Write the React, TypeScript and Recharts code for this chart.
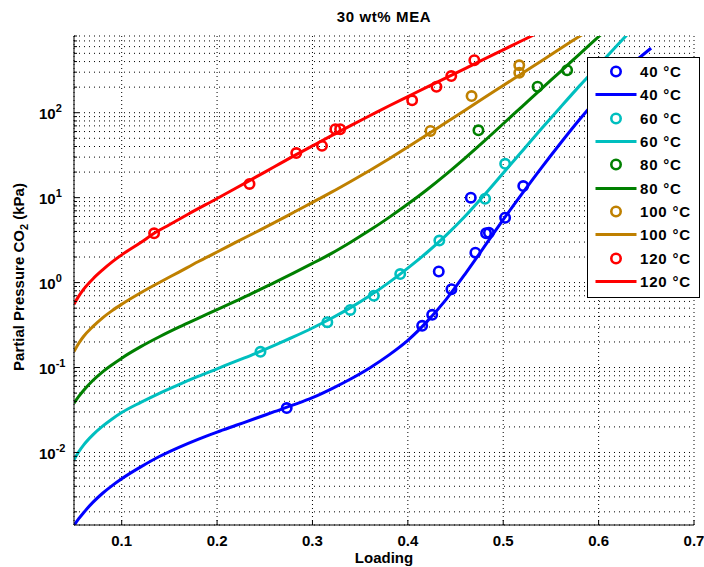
import React from 'react';
import { ComposedChart, Line, Scatter, XAxis, YAxis, CartesianGrid, Legend } from 'recharts';

// ---------- data ----------
const seriesLabels = ['40 °C', '60 °C', '80 °C', '100 °C', '120 °C'];
const seriesColors = ['#0000FF', '#00BFBF', '#008000', '#BF8000', '#FF0000'];

// model curves (loading, partial pressure CO2 in kPa)
const fit40: [number, number][] = [
  [0.05, 0.00138], [0.055, 0.00166], [0.06, 0.00195], [0.07, 0.0026], [0.08, 0.00331], [0.09, 0.00407],
  [0.1, 0.0049], [0.12, 0.00676], [0.14, 0.00902], [0.16, 0.0115], [0.18, 0.0143], [0.2, 0.0174],
  [0.22, 0.0209], [0.24, 0.0251], [0.26, 0.0302], [0.28, 0.0363], [0.3, 0.0442], [0.32, 0.0562],
  [0.34, 0.0733], [0.36, 0.0989], [0.38, 0.14], [0.4, 0.209], [0.42, 0.347], [0.44, 0.631],
  [0.46, 1.26], [0.48, 2.63], [0.5, 5.5], [0.52, 11.2], [0.54, 22.4], [0.56, 43.7], [0.58, 83.2],
  [0.6, 151], [0.62, 263], [0.64, 417], [0.655, 575],
];
const fit60: [number, number][] = [
  [0.05, 0.0082], [0.055, 0.0102], [0.06, 0.0122], [0.07, 0.0162], [0.08, 0.0204], [0.09, 0.0248],
  [0.1, 0.0295], [0.12, 0.0389], [0.14, 0.0501], [0.16, 0.0631], [0.18, 0.0785], [0.2, 0.0966],
  [0.22, 0.119], [0.24, 0.146], [0.26, 0.182], [0.28, 0.229], [0.3, 0.292], [0.32, 0.38],
  [0.34, 0.507], [0.36, 0.7], [0.38, 1.0], [0.4, 1.48], [0.42, 2.26], [0.44, 3.59], [0.46, 6.03],
  [0.48, 10.7], [0.5, 19.5], [0.52, 35.5], [0.54, 64.6], [0.56, 116], [0.58, 207], [0.6, 363],
  [0.62, 631], [0.64, 1096],
];
const fit80: [number, number][] = [
  [0.05, 0.038], [0.055, 0.0457], [0.06, 0.0537], [0.07, 0.0708], [0.08, 0.0891], [0.09, 0.108],
  [0.1, 0.129], [0.12, 0.176], [0.14, 0.232], [0.16, 0.299], [0.18, 0.38], [0.2, 0.481],
  [0.22, 0.61], [0.24, 0.776], [0.26, 1.0], [0.28, 1.29], [0.3, 1.68], [0.32, 2.21], [0.34, 2.99],
  [0.36, 4.12], [0.38, 5.82], [0.4, 8.41], [0.42, 12.4], [0.44, 18.8], [0.46, 29.2], [0.48, 46.2],
  [0.5, 74.1], [0.52, 119], [0.54, 191], [0.56, 305], [0.58, 490], [0.6, 785], [0.62, 1259],
];
const fit100: [number, number][] = [
  [0.05, 0.154], [0.055, 0.193], [0.06, 0.232], [0.07, 0.305], [0.08, 0.385], [0.09, 0.468],
  [0.1, 0.556], [0.12, 0.759], [0.14, 1.01], [0.16, 1.33], [0.18, 1.76], [0.2, 2.29], [0.22, 2.99],
  [0.24, 3.89], [0.26, 5.07], [0.28, 6.68], [0.3, 8.81], [0.32, 11.6], [0.34, 15.5], [0.36, 20.9],
  [0.38, 28.5], [0.4, 39.4], [0.42, 55.0], [0.44, 76.7], [0.46, 107], [0.48, 150], [0.5, 209],
  [0.52, 292], [0.54, 407], [0.56, 569], [0.58, 794], [0.6, 1109],
];
const fit120: [number, number][] = [
  [0.05, 0.557], [0.055, 0.692], [0.06, 0.832], [0.07, 1.11], [0.08, 1.41], [0.09, 1.75], [0.1, 2.12],
  [0.12, 2.96], [0.134, 3.8], [0.15, 4.8], [0.17, 6.43], [0.2, 9.77], [0.22, 12.97], [0.24, 17.3],
  [0.26, 23.1], [0.28, 30.8], [0.3, 40.7], [0.32, 53.7], [0.34, 70.5], [0.36, 92.0], [0.38, 120],
  [0.4, 155], [0.42, 200], [0.44, 257], [0.46, 331], [0.48, 427], [0.5, 550], [0.52, 708],
  [0.54, 912],
];

// experimental points
const exp40: [number, number][] = [
  [0.273, 0.0333], [0.415, 0.31], [0.4255, 0.417], [0.4324, 1.35], [0.4457, 0.835], [0.466, 10.0],
  [0.4708, 2.25], [0.482, 3.8], [0.485, 3.85], [0.502, 5.8], [0.521, 13.7],
];
const exp60: [number, number][] = [
  [0.2455, 0.153], [0.3156, 0.342], [0.3397, 0.477], [0.3644, 0.7], [0.392, 1.26], [0.433, 3.12],
  [0.481, 9.7], [0.502, 25],
];
const exp80: [number, number][] = [[0.474, 62], [0.536, 202], [0.567, 316]];
const exp100: [number, number][] = [[0.4237, 61], [0.4668, 157], [0.5168, 296], [0.5168, 361]];
const exp120: [number, number][] = [
  [0.134, 3.8], [0.234, 14.5], [0.283, 33.5], [0.31, 40.7], [0.324, 64], [0.329, 64],
  [0.4045, 140], [0.43, 202], [0.4455, 270], [0.4697, 415],
];

const xTicks = [0.1, 0.2, 0.3, 0.4, 0.5, 0.6, 0.7];
const xDomain = [0.05, 0.7];
const yDomain = [0.0014, 800];
const yDecades = [0.001, 0.01, 0.1, 1, 10, 100];
const yMinorSteps = [1, 2, 3, 4, 5, 6, 7, 8, 9];

// ---------- derived ----------
const fits = [fit40, fit60, fit80, fit100, fit120];
const exps = [exp40, exp60, exp80, exp100, exp120];
const toPts = (a: [number, number][]) => a.map(([x, y]) => ({ x, y }));

const yTicks: number[] = [];
yDecades.forEach((d) =>
  yMinorSteps.forEach((k) => {
    const v = Number((k * d).toPrecision(6));
    if (v >= yDomain[0] && v <= yDomain[1]) yTicks.push(v);
  })
);

const FONT = "'Liberation Sans', Arial, Helvetica, sans-serif";
const PLOT_LEFT = 74;
const PLOT_BOTTOM = 525;

const YTick = (props: any) => {
  const { y, payload } = props;
  const v = payload.value as number;
  const e = Math.round(Math.log10(v));
  const major = Math.abs(v - Math.pow(10, e)) / v < 1e-6;
  return (
    <g>
      <line x1={PLOT_LEFT} x2={PLOT_LEFT + (major ? 5 : 3)} y1={y} y2={y} stroke="#000" strokeWidth={1} />
      {major && (
        <text x={39} y={y + 6.3} fontSize={15} fontWeight="bold" fontFamily={FONT} fill="#000">
          10
          <tspan fontSize={11} dy={-7}>{String(e)}</tspan>
        </text>
      )}
    </g>
  );
};

const XTick = (props: any) => {
  const { x, payload } = props;
  return (
    <g>
      <line x1={x} x2={x} y1={PLOT_BOTTOM} y2={PLOT_BOTTOM - 5} stroke="#000" strokeWidth={1} />
      <text x={x} y={545.5} textAnchor="middle" fontSize={15} fontWeight="bold" fontFamily={FONT} fill="#000">
        {(payload.value as number).toFixed(1)}
      </text>
    </g>
  );
};

const makeCircle = (color: string) => (props: any) => {
  const { cx, cy } = props;
  if (cx == null || cy == null) return <g />;
  return <circle cx={cx} cy={cy} r={4.7} fill="none" stroke={color} strokeWidth={2.6} />;
};

const LegendBox = () => {
  const rows: { label: string; color: string; marker: boolean }[] = [];
  seriesLabels.forEach((l, i) => {
    rows.push({ label: l, color: seriesColors[i], marker: true });
    rows.push({ label: l, color: seriesColors[i], marker: false });
  });
  return (
    <div
      style={{
        width: 113,
        height: 241,
        boxSizing: 'border-box',
        border: '1.6px solid #000',
        background: '#fff',
        paddingTop: 2,
        fontFamily: FONT,
      }}
    >
      {rows.map((r, i) => (
        <div key={i} style={{ display: 'flex', alignItems: 'center', height: 23.3 }}>
          <svg width={52} height={23} style={{ display: 'block', flex: 'none' }}>
            {r.marker ? (
              <circle cx={28} cy={11.5} r={4.7} fill="none" stroke={r.color} strokeWidth={2.6} />
            ) : (
              <line x1={7.5} x2={48.5} y1={11.5} y2={11.5} stroke={r.color} strokeWidth={3} />
            )}
          </svg>
          <span style={{ fontSize: 15, fontWeight: 'bold', color: '#000', letterSpacing: 0.8, whiteSpace: 'nowrap' }}>
            {r.label}
          </span>
        </div>
      ))}
    </div>
  );
};

export default function App() {
  const children: React.ReactNode[] = [];
  seriesLabels.forEach((label, i) => {
    children.push(
      <Scatter
        key={'s' + i}
        name={label + ' data'}
        data={toPts(exps[i])}
        dataKey="y"
        shape={makeCircle(seriesColors[i])}
        isAnimationActive={false}
      />
    );
    children.push(
      <Line
        key={'l' + i}
        name={label}
        data={toPts(fits[i])}
        dataKey="y"
        type="monotone"
        stroke={seriesColors[i]}
        strokeWidth={3}
        dot={false}
        activeDot={false}
        isAnimationActive={false}
      />
    );
  });

  return (
    <div style={{ position: 'absolute', left: 0, top: 0, width: 704, height: 567, background: '#fff' }}>
      <ComposedChart width={704} height={567} margin={{ top: 36, right: 10, bottom: 12, left: 14 }}>
        <CartesianGrid stroke="#000" strokeDasharray="1 4" strokeWidth={1} vertical={false} />
        <CartesianGrid stroke="#000" strokeDasharray="1 3" strokeWidth={1} horizontal={false} />
        <XAxis
          dataKey="x"
          type="number"
          domain={xDomain}
          ticks={xTicks}
          allowDataOverflow
          height={30}
          tickLine={false}
          axisLine={{ stroke: '#000', strokeWidth: 1 }}
          tick={<XTick />}
          interval={0}
          label={{
            content: () => (
              <text x={384} y={562.5} textAnchor="middle" fontSize={15} fontWeight="bold" fontFamily={FONT} fill="#000">
                Loading
              </text>
            ),
          }}
        />
        <YAxis
          type="number"
          scale="log"
          domain={yDomain}
          ticks={yTicks}
          allowDataOverflow
          width={60}
          tickLine={false}
          axisLine={{ stroke: '#000', strokeWidth: 1 }}
          tick={<YTick />}
          interval={0}
          label={{
            content: () => (
              <text
                transform="rotate(-90)"
                x={-277}
                y={24}
                textAnchor="middle"
                fontSize={15}
                fontWeight="bold"
                fontFamily={FONT}
                fill="#000"
              >
                Partial Pressure CO
                <tspan dy={4} fontSize={11}>2</tspan>
                <tspan dy={-4}> (kPa)</tspan>
              </text>
            ),
          }}
        />
        <Legend
          content={() => <LegendBox />}
          layout="vertical"
          align="center"
          verticalAlign="middle"
          wrapperStyle={{ left: 587, top: 57, width: 113, height: 241 }}
        />
        {children}
      </ComposedChart>
      <svg width={704} height={30} style={{ position: 'absolute', left: 0, top: 0, pointerEvents: 'none' }}>
        <text x={384} y={22} textAnchor="middle" fontSize={15} fontWeight="bold" fontFamily={FONT} letterSpacing={0.6} fill="#000">
          30 wt% MEA
        </text>
      </svg>
    </div>
  );
}
